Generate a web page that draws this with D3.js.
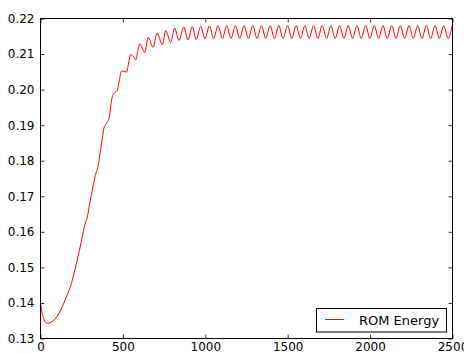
<!DOCTYPE html>
<html>
<head>
<meta charset="utf-8">
<script src="https://cdn.jsdelivr.net/npm/d3@7"></script>
<style>
  html, body { margin: 0; padding: 0; background: #fff; }
  svg { display: block; }
  text { font-family: "DejaVu Sans", sans-serif; }
</style>
</head>
<body>
<svg id="chart" width="464" height="353"></svg>
<script>
// ---- data ----
const xTicks = [0, 500, 1000, 1500, 2000, 2500];
const yTicks = [0.13, 0.14, 0.15, 0.16, 0.17, 0.18, 0.19, 0.20, 0.21, 0.22];
const seriesName = "ROM Energy";

const iterations = [
  0, 10, 20, 30, 45, 60, 76, 100, 126, 155, 187, 210, 227, 245, 257, 270, 284, 296, 308, 320,
  332, 348, 364, 376, 384, 400, 417, 428, 437, 450, 465, 478, 491, 505, 521, 535, 546, 560, 578, 590,
  602, 633, 653, 683, 707, 740, 760, 790, 814, 840, 869, 895, 921, 945, 972,
  998, 1025, 1051, 1077, 1104, 1130, 1156, 1183, 1209, 1235, 1262, 1288, 1314, 1341, 1367, 1393,
  1420, 1446, 1472, 1499, 1525, 1551, 1578, 1604, 1630, 1657, 1683, 1709, 1736, 1762, 1788, 1815,
  1841, 1867, 1894, 1920, 1946, 1973, 1999, 2025, 2052, 2078, 2104, 2131, 2157, 2183, 2210, 2236,
  2262, 2289, 2315, 2341, 2368, 2394, 2420, 2447, 2473, 2499
];
const romEnergy = [
  0.1400, 0.1372, 0.1355, 0.1346, 0.1343, 0.1345, 0.1349, 0.1362, 0.1383, 0.1415, 0.1454, 0.1495, 0.1529, 0.1567, 0.1594, 0.1622, 0.1641, 0.1672, 0.1702, 0.1730,
  0.1758, 0.1782, 0.1829, 0.1865, 0.1890, 0.1905, 0.1922, 0.1960, 0.1983, 0.1992, 0.1997, 0.2025, 0.2052, 0.2052, 0.2049, 0.2075, 0.2098, 0.2095, 0.2084, 0.2108,
  0.2129, 0.2105, 0.2147, 0.2119, 0.2159, 0.2127, 0.2166, 0.2133, 0.2173, 0.2138, 0.2176, 0.2140, 0.2177, 0.2141, 0.2178,
  0.2143, 0.2179, 0.2144, 0.2180, 0.2144, 0.2180, 0.2144, 0.2180, 0.2144, 0.2180, 0.2144, 0.2180, 0.2144, 0.2180, 0.2144, 0.2180,
  0.2144, 0.2180, 0.2144, 0.2180, 0.2144, 0.2180, 0.2144, 0.2180, 0.2144, 0.2180, 0.2144, 0.2180, 0.2144, 0.2180, 0.2144, 0.2180,
  0.2144, 0.2180, 0.2144, 0.2180, 0.2144, 0.2180, 0.2144, 0.2180, 0.2144, 0.2180, 0.2144, 0.2180, 0.2144, 0.2180, 0.2144, 0.2180,
  0.2144, 0.2180, 0.2144, 0.2180, 0.2144, 0.2180, 0.2144, 0.2180, 0.2144, 0.2180
];

// ---- layout ----
const svg = d3.select("#chart");
const mLeft = 40.5, mRight = 452.5, mTop = 18.5, mBottom = 338.5;

const x = d3.scaleLinear().domain([0, 2500]).range([mLeft, mRight]);
const y = d3.scaleLinear().domain([0.13, 0.22]).range([mBottom, mTop]);

const data = iterations.map((d, i) => ({ x: d, y: romEnergy[i] }));

// clip
svg.append("clipPath").attr("id", "clip")
  .append("rect").attr("x", mLeft).attr("y", mTop).attr("width", mRight - mLeft).attr("height", mBottom - mTop);

// line
const line = d3.line().x(d => x(d.x)).y(d => y(d.y)).curve(d3.curveMonotoneX);
svg.append("path")
  .datum(data)
  .attr("clip-path", "url(#clip)")
  .attr("fill", "none")
  .attr("stroke", "#ff0000")
  .attr("stroke-width", 1)
  .attr("d", line);

// axes (inward ticks on all four sides)
const tickLen = 4;
const fmtY = d3.format(".2f");

const axB = svg.append("g").attr("transform", `translate(0,${mBottom})`)
  .call(d3.axisBottom(x).tickValues(xTicks).tickSizeInner(-tickLen).tickSizeOuter(0).tickPadding(4).tickFormat(d3.format("d")));
const axT = svg.append("g").attr("transform", `translate(0,${mTop})`)
  .call(d3.axisTop(x).tickValues(xTicks).tickSizeInner(-tickLen).tickSizeOuter(0).tickFormat(""));
const axL = svg.append("g").attr("transform", `translate(${mLeft},0)`)
  .call(d3.axisLeft(y).tickValues(yTicks).tickSizeInner(-tickLen).tickSizeOuter(0).tickPadding(6).tickFormat(fmtY));
const axR = svg.append("g").attr("transform", `translate(${mRight},0)`)
  .call(d3.axisRight(y).tickValues(yTicks).tickSizeInner(-tickLen).tickSizeOuter(0).tickFormat(""));

[axB, axT, axL, axR].forEach(g => {
  g.select(".domain").remove();
  g.selectAll(".tick line").attr("stroke", "#000").attr("stroke-width", 0.8);
  g.selectAll("text").attr("fill", "#000").attr("font-size", 12).attr("font-family", "DejaVu Sans, sans-serif");
});
axB.selectAll("text").attr("dy", "0.71em");

// frame
svg.append("rect")
  .attr("x", mLeft).attr("y", mTop).attr("width", mRight - mLeft).attr("height", mBottom - mTop)
  .attr("fill", "none").attr("stroke", "#000").attr("stroke-width", 1);

// legend
const lg = svg.append("g");
lg.append("rect")
  .attr("x", 316.5).attr("y", 308.5).attr("width", 130).attr("height", 23.5)
  .attr("fill", "#fff").attr("stroke", "#000").attr("stroke-width", 1);
lg.append("line")
  .attr("x1", 325).attr("x2", 344).attr("y1", 319.5).attr("y2", 319.5)
  .attr("stroke", "#ff0000").attr("stroke-width", 1);
lg.append("text")
  .attr("x", 359).attr("y", 325)
  .attr("font-size", 13).attr("fill", "#000")
  .text(seriesName);
</script>
</body>
</html>
